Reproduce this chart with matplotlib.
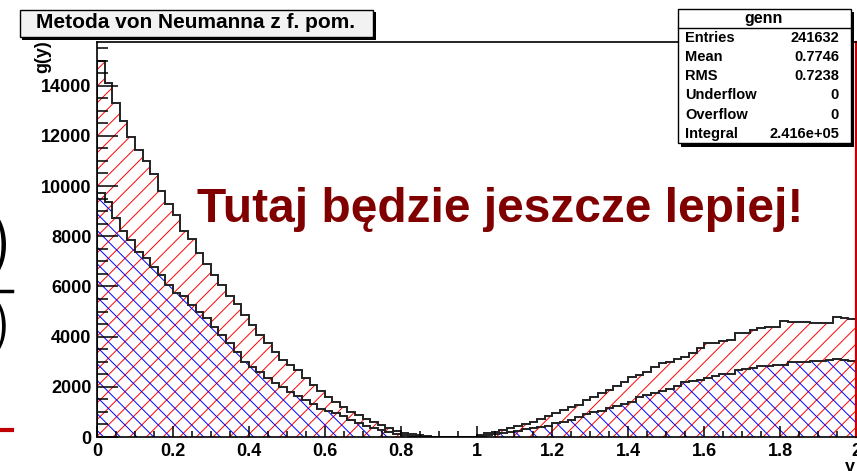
import numpy as np
import matplotlib
matplotlib.use('Agg')
import matplotlib.pyplot as plt
from matplotlib.patches import Rectangle
from matplotlib.lines import Line2D
from matplotlib.ticker import MultipleLocator, FixedLocator, FixedFormatter

# histogram contents, 100 bins over [0, 2]
red_counts = [14970, 14110, 13310, 12580, 11950, 11450, 10980, 10490, 9790, 9290,
              8830, 8220, 7890, 7340, 6900, 6460, 6060, 5600, 5300, 4870,
              4470, 4070, 3740, 3400, 3070, 2870, 2650, 2340, 2070, 1850,
              1610, 1380, 1180, 1010, 880, 710, 610, 490, 360, 250,
              170, 100, 60, 30, 15, 5, 0, 0, 2, 10,
              80, 145, 210, 280, 345, 440, 520, 610, 720, 840,
              945, 1080, 1180, 1280, 1475, 1610, 1740, 1875, 2035, 2210,
              2380, 2470, 2600, 2800, 2940, 3000, 3100, 3200, 3340, 3540,
              3760, 3740, 3840, 3870, 4160, 4160, 4270, 4340, 4380, 4380,
              4640, 4600, 4600, 4600, 4560, 4540, 4560, 4770, 4730, 4700]

blue_counts = [9740, 9380, 8740, 8190, 7860, 7390, 7130, 6790, 6460, 6060,
               5730, 5600, 5270, 5000, 4730, 4400, 4070, 3740, 3400, 3000,
               2800, 2600, 2340, 2140, 2000, 1800, 1640, 1470, 1300, 1130,
               1030, 950, 820, 690, 560, 440, 350, 270, 190, 120,
               70, 35, 15, 5, 0, 0, 0, 0, 0, 5,
               40, 80, 120, 145, 185, 250, 305, 370, 410, 440,
               545, 610, 680, 785, 920, 985, 1050, 1145, 1240, 1315,
               1410, 1580, 1675, 1770, 1850, 1900, 2035, 2210, 2250, 2270,
               2340, 2430, 2510, 2510, 2650, 2700, 2740, 2830, 2830, 2870,
               2870, 2970, 2990, 3000, 3030, 3030, 3050, 3100, 3070, 3030]

xtick_vals = [0, 0.2, 0.4, 0.6, 0.8, 1.0, 1.2, 1.4, 1.6, 1.8, 2.0]
xtick_labels = ['0', '0.2', '0.4', '0.6', '0.8', '1', '1.2', '1.4', '1.6', '1.8', '2']
ytick_vals = [0, 2000, 4000, 6000, 8000, 10000, 12000, 14000]
ytick_labels = ['0', '2000', '4000', '6000', '8000', '10000', '12000', '14000']

stat_names = ['Entries', 'Mean', 'RMS', 'Underflow', 'Overflow', 'Integral']
stat_values = ['241632', '0.7746', '0.7238', '0', '0', '2.416e+05']

plt.rcParams['font.family'] = ['Liberation Sans', 'DejaVu Sans']
plt.rcParams['hatch.linewidth'] = 0.7

W, H = 857, 471
fig = plt.figure(figsize=(W / 100, H / 100), dpi=100)


def fx(px):
    return px / W


def fy(py):
    return 1 - py / H


ax = fig.add_axes([fx(97), fy(437), fx(856) - fx(97), fy(41.7) - fy(437)])
edges = np.linspace(0, 2, len(red_counts) + 1)

# hatched fills (ROOT style 3004 / 3005)
ax.stairs(red_counts, edges, fill=True, facecolor='none', edgecolor='#ff0000',
          hatch='//', lw=0)
ax.stairs(blue_counts, edges, fill=True, facecolor='none', edgecolor='#0000ff',
          hatch='\\\\', lw=0)
# outlines
ax.stairs(red_counts, edges, color='#222222', lw=1.4)
ax.stairs(blue_counts, edges, color='#222222', lw=1.4)

ax.set_xlim(0, 2)
ax.set_ylim(0, 15750)

ax.xaxis.set_major_locator(FixedLocator(xtick_vals))
ax.xaxis.set_major_formatter(FixedFormatter(xtick_labels))
ax.xaxis.set_minor_locator(MultipleLocator(0.05))
ax.yaxis.set_major_locator(FixedLocator(ytick_vals))
ax.yaxis.set_major_formatter(FixedFormatter(ytick_labels))
ax.yaxis.set_minor_locator(MultipleLocator(500))

ax.tick_params(axis='both', which='both', direction='in', width=1.1, color='black')
ax.tick_params(axis='x', which='major', length=8, pad=4)
ax.tick_params(axis='x', which='minor', length=4)
ax.tick_params(axis='y', which='major', length=15, pad=4)
ax.tick_params(axis='y', which='minor', length=8)
for lab in ax.get_xticklabels() + ax.get_yticklabels():
    lab.set_fontweight('bold')
    lab.set_fontsize(13)

for s in ['left', 'bottom', 'top']:
    ax.spines[s].set_linewidth(1.2)
ax.spines['right'].set_color('#cc0000')
ax.spines['right'].set_linewidth(1.6)

# axis titles (ROOT places them at the axis ends)
fig.text(fx(43), fy(40), 'g(y)', rotation=90, ha='center', va='top',
         fontsize=13, fontweight='bold')
fig.text(fx(850), fy(459), 'y', ha='center', va='top', fontsize=13, fontweight='bold')

# title box with shadow
fig.patches.append(Rectangle((fx(22), fy(39.5)), fx(376) - fx(22), fy(12) - fy(39.5),
                             transform=fig.transFigure, facecolor='black', edgecolor='none'))
fig.patches.append(Rectangle((fx(19.5), fy(36.5)), fx(373) - fx(19.5), fy(9.5) - fy(36.5),
                             transform=fig.transFigure, facecolor='#f2f2f2',
                             edgecolor='black', lw=1))
fig.text(fx(196), fy(23), 'Metoda von Neumanna z f. pom.', ha='center', va='center',
         fontsize=15, fontweight='bold')

# stats box with shadow
fig.patches.append(Rectangle((fx(681), fy(146.5)), fx(854) - fx(681), fy(12) - fy(146.5),
                             transform=fig.transFigure, facecolor='black', edgecolor='none'))
fig.patches.append(Rectangle((fx(678), fy(143)), fx(851) - fx(678), fy(9) - fy(143),
                             transform=fig.transFigure, facecolor='white',
                             edgecolor='black', lw=1))
fig.lines.append(Line2D([fx(678), fx(851)], [fy(27.5), fy(27.5)],
                        transform=fig.transFigure, color='black', lw=1))
fig.text(fx(764), fy(18), 'genn', ha='center', va='center', fontsize=11.5, fontweight='bold')
for i, (nm, val) in enumerate(zip(stat_names, stat_values)):
    yy = 37.5 + i * 19.3
    fig.text(fx(685), fy(yy), nm, ha='left', va='center', fontsize=10.5, fontweight='bold')
    fig.text(fx(839), fy(yy), val, ha='right', va='center', fontsize=10.5, fontweight='bold')

# slide overlay text
fig.text(fx(197), fy(222), 'Tutaj będzie jeszcze lepiej!', ha='left', va='baseline',
         fontsize=34.5, fontweight='bold', color='#800000',
         family=['Liberation Sans Narrow', 'Liberation Sans', 'DejaVu Sans'])

# leftovers of the neighbouring formula on the slide
fig.text(fx(13), fy(244), ')', ha='right', va='center', fontsize=52, family='cmr10')
fig.text(fx(11), fy(326), ')', ha='right', va='center', fontsize=44, family='cmr10')
fig.lines.append(Line2D([0, fx(12)], [fy(290.5), fy(290.5)], transform=fig.transFigure,
                        color='black', lw=2.5))
fig.lines.append(Line2D([0, fx(12)], [fy(430), fy(430)], transform=fig.transFigure,
                        color='#c00000', lw=3))

fig.savefig('out.png', dpi=100)
